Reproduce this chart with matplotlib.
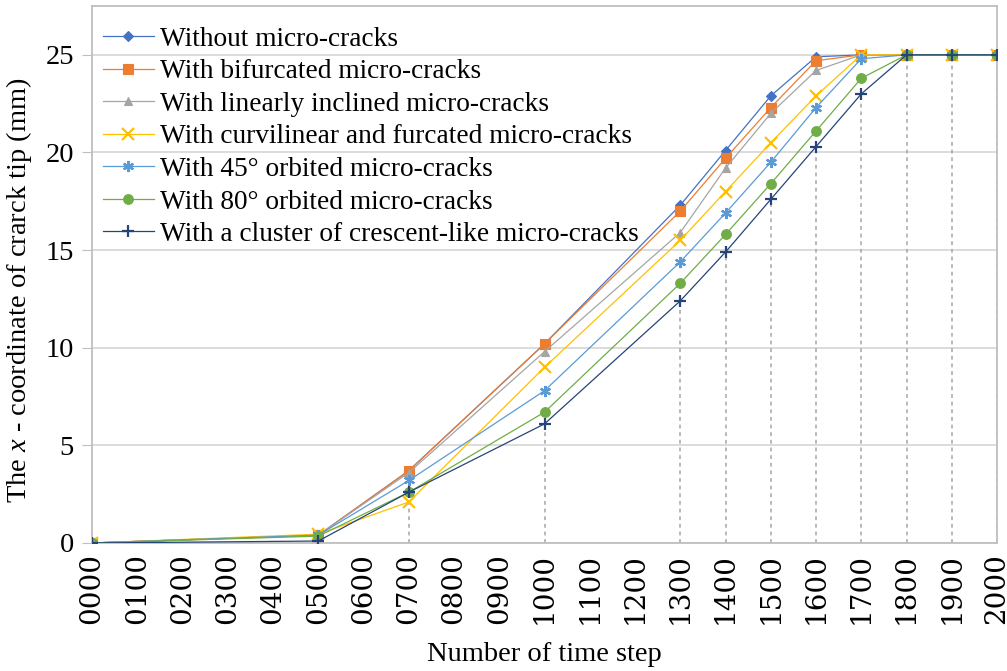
import numpy as np
import matplotlib
matplotlib.use("Agg")
import matplotlib.pyplot as plt

plt.rcParams["font.family"] = ["Liberation Serif", "DejaVu Serif"]
plt.rcParams["mathtext.fontset"] = "custom"
plt.rcParams["mathtext.it"] = "Liberation Serif:italic"
plt.rcParams["mathtext.rm"] = "Liberation Serif"

# time steps where the crack tip was sampled
steps = [0, 500, 700, 1000, 1300, 1400, 1500, 1600, 1700, 1800, 1900, 2000]

# x-coordinate of crack tip (mm) per case
without_mc = [0, 0.40, 3.7, 10.2, 17.3, 20.1, 22.9, 24.9, 25.0, 25.0, 25.0, 25.0]
bifurcated = [0, 0.40, 3.7, 10.2, 17.0, 19.7, 22.3, 24.7, 25.0, 25.0, 25.0, 25.0]
linear_incl = [0, 0.40, 3.6, 9.8, 15.9, 19.2, 22.0, 24.2, 25.0, 25.0, 25.0, 25.0]
curvilinear = [0, 0.45, 2.1, 9.0, 15.5, 18.0, 20.5, 22.9, 25.0, 25.0, 25.0, 25.0]
orbit_45 = [0, 0.40, 3.2, 7.8, 14.4, 16.9, 19.5, 22.3, 24.8, 25.0, 25.0, 25.0]
orbit_80 = [0, 0.35, 2.6, 6.7, 13.3, 15.8, 18.4, 21.1, 23.8, 25.0, 25.0, 25.0]
crescent = [0, 0.10, 2.6, 6.1, 12.4, 14.9, 17.6, 20.3, 23.0, 25.0, 25.0, 25.0]

labels = [
    "Without micro-cracks",
    "With bifurcated micro-cracks",
    "With linearly inclined micro-cracks",
    "With curvilinear and furcated micro-cracks",
    "With 45\u00b0 orbited micro-cracks",
    "With 80\u00b0 orbited micro-cracks",
    "With a cluster of crescent-like micro-cracks",
]

# category axis labels
tick_steps = list(range(0, 2001, 100))
tick_labels = [f"{t:04d}" for t in tick_steps]

series = [without_mc, bifurcated, linear_incl, curvilinear, orbit_45, orbit_80, crescent]
colors = ["#4472C4", "#ED7D31", "#A5A5A5", "#FFC000", "#5B9BD5", "#70AD47", "#264478"]
markers = ["D", "s", "^", "x", (6, 2, 0), "o", "+"]
msizes = [5, 7, 6, 8, 8, 7, 8]

fig = plt.figure(figsize=(10.07, 6.71), dpi=100)
ax = fig.add_axes([0.0914, 0.1908, 0.8987, 0.8002])

# drop lines from the lowest series down to the axis
low = np.min(np.array(series), axis=0)
ax.vlines(steps, 0, low, colors="#A5A5A5", linestyles=(0, (2.5, 2.5)), linewidth=1.1, zorder=1)

for vals, lab, c, m, ms in zip(series, labels, colors, markers, msizes):
    thick = m in ("x", "+") or isinstance(m, tuple)
    ax.plot(steps, vals, color=c, lw=0.9, marker=m, ms=ms, mew=1.6 if thick else 0.8,
            mec=c, mfc=c, label=lab, zorder=3)

ax.set_xlim(0, 2000)
ax.set_ylim(0, 27.5)
ax.set_yticks([0, 5, 10, 15, 20, 25])
ax.set_xticks(tick_steps)
ax.set_xticklabels(tick_labels, rotation=90, fontsize=20, family="DejaVu Serif")
ax.tick_params(axis="x", length=0, pad=7)
ax.tick_params(axis="y", length=7, color="#BFBFBF", labelsize=20.5, pad=6)
ax.yaxis.grid(True, color="#D9D9D9", lw=1.3)
ax.set_axisbelow(True)
for sp in ax.spines.values():
    sp.set_color("#BFBFBF")
    sp.set_linewidth(1.3)

ax.set_xlabel("Number of time step", fontsize=20.5, labelpad=13)
ax.set_ylabel("The $x$ - coordinate of crarck tip (mm)", fontsize=20.5)
ax.yaxis.set_label_coords(-0.064, 0.47)

ax.legend(loc="upper left", bbox_to_anchor=(0.0, 0.982), frameon=False, fontsize=19.7,
          handlelength=1.85, handletextpad=0.22, labelspacing=0.27, borderaxespad=0.3, borderpad=0.1)

fig.savefig("out.png", dpi=100)
